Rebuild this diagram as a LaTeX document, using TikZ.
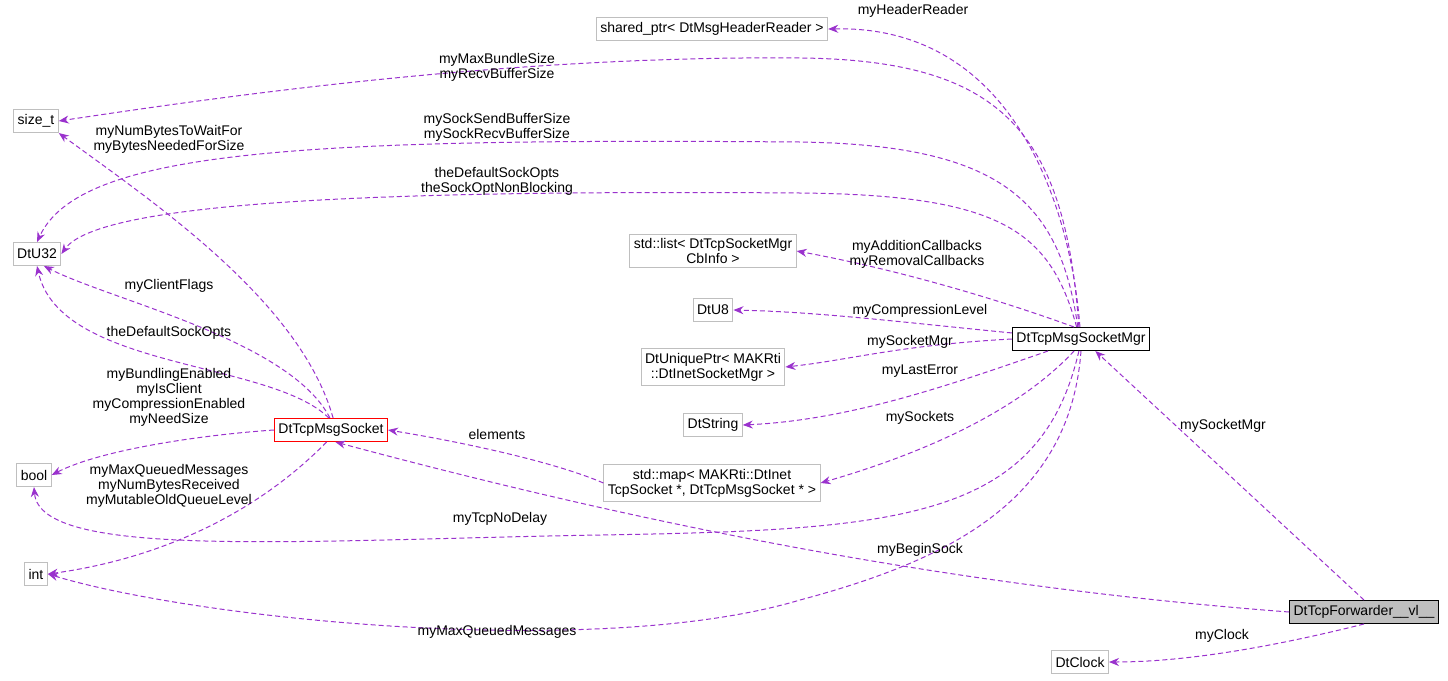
\documentclass[tikz,border=0pt]{standalone}
\usepackage{fontspec}
\setmainfont{Liberation Sans}
\usetikzlibrary{arrows.meta}
\definecolor{edgecol}{RGB}{154,50,205}
\definecolor{boxgray}{RGB}{191,191,191}
\tikzset{
  cls/.style={draw=boxgray,line width=0.5pt,fill=white,inner sep=2pt,minimum height=11.5pt,align=center,font=\fontsize{7}{7.5}\selectfont},
  edge/.style={draw=edgecol,dashed,dash pattern=on 2.5pt off 1.5pt,line width=0.5pt,-{Stealth[length=5pt,width=4pt]}},
  lbl/.style={align=center,font=\fontsize{7}{7.5}\selectfont}
}
\begin{document}
\begin{tikzpicture}[x=0.5pt,y=-0.5pt]
\useasboundingbox (0,0) rectangle (1448,681);

% classes
\node[cls] (shared) at (712,29) {shared\_ptr< DtMsgHeaderReader >};
\node[cls] (size) at (36,121) {size\_t};
\node[cls] (u32) at (37,254) {DtU32};
\node[cls] (list) at (713,251) {std::list< DtTcpSocketMgr\\CbInfo >};
\node[cls] (u8) at (713,310) {DtU8};
\node[cls,draw=black] (mgr) at (1081,339) {DtTcpMsgSocketMgr};
\node[cls] (uniq) at (713,367) {DtUniquePtr< MAKRti\\::DtInetSocketMgr >};
\node[cls] (string) at (713,425) {DtString};
\node[cls,draw=red] (msock) at (331,430) {DtTcpMsgSocket};
\node[cls] (bool) at (34,475) {bool};
\node[cls] (map) at (712,483) {std::map< MAKRti::DtInet\\TcpSocket *, DtTcpMsgSocket * >};
\node[cls] (int) at (36,574) {int};
\node[cls,draw=black,fill=boxgray] (fwd) at (1364,612) {DtTcpForwarder\_\_vl\_\_};
\node[cls] (clock) at (1080,662) {DtClock};

% members of DtTcpMsgSocketMgr
\draw[edge] (mgr.95) .. controls (1070,200) and (1010,25) .. (shared.east);
\draw[edge] (mgr.100) .. controls (1065,130) and (1000,60) .. (800,58) .. controls (500,55) and (200,100) .. (size.east);
\draw[edge] (mgr.105) .. controls (1060,200) and (1000,145) .. (800,142) .. controls (300,138) and (80,150) .. (u32.north);
\draw[edge] (mgr.110) .. controls (1050,230) and (1000,195) .. (800,193) .. controls (400,190) and (100,200) .. (u32.east);
\draw[edge] (mgr.120) .. controls (1000,300) and (900,270) .. (list.east);
\draw[edge] (mgr.175) .. controls (900,322) and (820,312) .. (u8.east);
\draw[edge] (mgr.west) .. controls (900,345) and (850,360) .. (uniq.east);
\draw[edge] (mgr.200) .. controls (950,385) and (850,420) .. (string.east);
\draw[edge] (mgr.240) .. controls (1010,420) and (900,460) .. (map.east);
\draw[edge] (mgr.260) .. controls (1040,520) and (900,530) .. (600,535) .. controls (300,540) and (40,560) .. (bool.south);
\draw[edge] (mgr.270) .. controls (1070,500) and (950,560) .. (800,600) .. controls (600,660) and (200,620) .. (int.east);

% members of DtTcpForwarder__vl__
\draw[edge] (fwd.north) -- (mgr.-40);
\draw[edge] (fwd.west) .. controls (1000,590) and (700,540) .. (msock.-70);
\draw[edge] (fwd.south) .. controls (1300,640) and (1200,662) .. (clock.east);

% map and DtTcpMsgSocket
\draw[edge] (map.west) .. controls (550,460) and (450,440) .. (msock.east);
\draw[edge] (msock.80) .. controls (300,300) and (150,200) .. (size.south east);
\draw[edge] (msock.95) .. controls (290,340) and (110,300) .. (u32.-60);
\draw[edge] (msock.100) .. controls (270,360) and (60,370) .. (u32.south);
\draw[edge] (msock.west) .. controls (200,435) and (100,450) .. (bool.east);
\draw[edge] (msock.-110) .. controls (250,520) and (150,560) .. (int.east);

% labels
\node[lbl] at (913,11) {myHeaderReader};
\node[lbl] at (497,67) {myMaxBundleSize\\myRecvBufferSize};
\node[lbl] at (497,127) {mySockSendBufferSize\\mySockRecvBufferSize};
\node[lbl] at (497,181) {theDefaultSockOpts\\theSockOptNonBlocking};
\node[lbl] at (917,254) {myAdditionCallbacks\\myRemovalCallbacks};
\node[lbl] at (920,311) {myCompressionLevel};
\node[lbl] at (910,342) {mySocketMgr};
\node[lbl] at (920,371) {myLastError};
\node[lbl] at (920,418) {mySockets};
\node[lbl] at (500,519) {myTcpNoDelay};
\node[lbl] at (497,632) {myMaxQueuedMessages};
\node[lbl] at (920,550) {myBeginSock};
\node[lbl] at (1223,426) {mySocketMgr};
\node[lbl] at (1222,636) {myClock};
\node[lbl] at (497,434) {elements};
\node[lbl] at (169,139) {myNumBytesToWaitFor\\myBytesNeededForSize};
\node[lbl] at (169,286) {myClientFlags};
\node[lbl] at (169,333) {theDefaultSockOpts};
\node[lbl] at (169,397) {myBundlingEnabled\\myIsClient\\myCompressionEnabled\\myNeedSize};
\node[lbl] at (169,486) {myMaxQueuedMessages\\myNumBytesReceived\\myMutableOldQueueLevel};
\end{tikzpicture}
\end{document}
